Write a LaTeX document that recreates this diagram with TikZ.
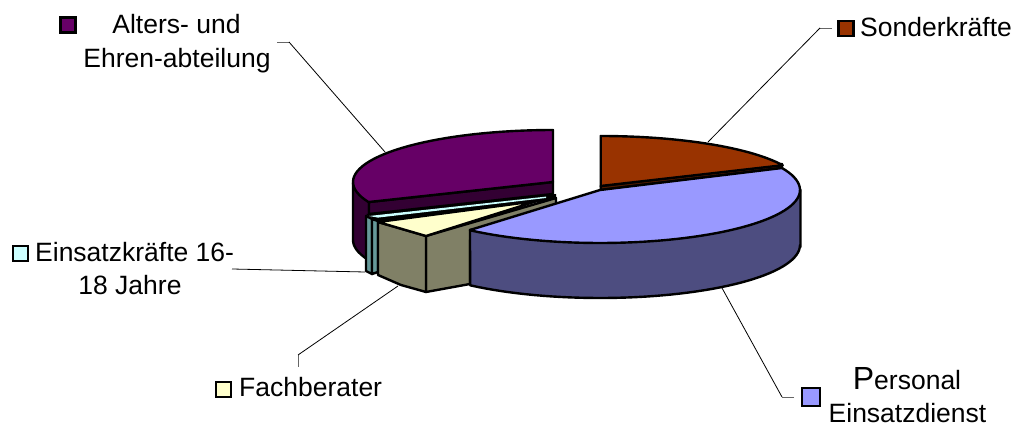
\documentclass[tikz,border=0pt]{standalone}
\usepackage{fontspec}
\setmainfont{Liberation Sans}
\definecolor{purpT}{HTML}{660066}
\definecolor{purpS}{HTML}{330033}
\definecolor{brownT}{HTML}{993300}
\definecolor{brownS}{HTML}{4D1A00}
\definecolor{blueT}{HTML}{9999FF}
\definecolor{blueS}{HTML}{4D4D80}
\definecolor{yelT}{HTML}{FFFFCC}
\definecolor{yelS}{HTML}{808066}
\definecolor{cyanT}{HTML}{CCFFFF}
\definecolor{cyanS}{HTML}{669999}
\tikzset{
  slice/.style={draw=black,line width=2.4pt,line join=round},
  leader/.style={draw=black,line width=0.8pt},
  stub/.style={draw=black!60,line width=0.9pt},
  swatch/.style={draw=black,line width=2.4pt,minimum size=15pt,inner sep=0pt,outer sep=0pt},
  lab/.style={anchor=base,inner sep=0pt,font=\fontsize{26.5}{30}\selectfont,text=black}
}
\begin{document}
\begin{tikzpicture}[x=1pt,y=-1pt]
\useasboundingbox[fill=white] (0,0) rectangle (1015,427);
% Alters- und Ehrenabteilung
\path[slice,fill=purpS] (353,183) -- (353,240) -- plot[domain=180:157,samples=8] ({553+200*cos(\x)},{240+52*sin(\x)}) -- (369,202) -- cycle;
\path[slice,fill=purpS] (369,202) -- (553,182) -- (553,194) -- (369,214) -- cycle;
\fill[black] (366,214) -- (556,194) -- (556,200) -- (378,222) -- cycle;
\path[slice,fill=purpT] (553,131) -- (553,182) -- (369,202) -- plot[domain=157.4:270,samples=40] ({553+200*cos(\x)},{182+52*sin(\x)}) -- cycle;
% Einsatzkraefte 16-18 Jahre
\path[slice,fill=cyanS] (366,216) -- (372,219) -- (372,274) -- (366,271) -- cycle;
\path[slice,fill=cyanS] (372,219) -- (378,221) -- (378,272) -- (372,274) -- cycle;
\fill[cyanT] (369,216) -- (546,196.6) -- (546,198) -- (378,217.6) -- cycle;
% Fachberater
\path[slice,fill=yelS] (426,236) -- (556,198) -- (556,206) -- (470,240) -- (470,284) -- (426,292) -- cycle;
\path[slice,fill=yelS] (378,222) -- (426,236) -- (426,292) -- (401,285) -- (378,275) -- cycle;
\path[slice,fill=yelT] (378,222) -- (537,201) -- (426,236) -- cycle;
% Sonderkraefte
\path[slice,fill=brownS] (600.7,186) -- (782,164) -- (782,168) -- (600.7,190) -- cycle;
\path[slice,fill=brownT] (600.7,186) -- plot[domain=-90:-24.5,samples=30] ({600.7+200*cos(\x)},{186+50*sin(\x)}) -- cycle;
% Personal Einsatzdienst
\path[slice,fill=blueS] (800.5,190) -- (800.5,247) -- plot[domain=0:130.5,samples=50] ({600+200*cos(\x)},{245+53*sin(\x)}) -- (470,230) -- cycle;
\path[slice,fill=blueT] (470,230) -- (600,190) -- (782,168) -- plot[domain=-24.5:130.5,samples=60] ({600+200*cos(\x)},{190+53*sin(\x)}) -- cycle;
% leader anchors
\coordinate (a0) at (277,42); \coordinate (a1) at (289,42); \coordinate (a2) at (385,152);
\coordinate (s0) at (832,28); \coordinate (s1) at (820,28); \coordinate (s2) at (708,142);
\coordinate (e0) at (232,269); \coordinate (e1) at (365,272);
\coordinate (f0) at (298,367); \coordinate (f1) at (298,355); \coordinate (f2) at (398,286);
\coordinate (p0) at (794,397); \coordinate (p1) at (782,397); \coordinate (p2) at (722,288);
\draw[stub] (a0) -- (a1); \draw[leader] (a1) -- (a2);
\draw[stub] (s0) -- (s1); \draw[leader] (s1) -- (s2);
\draw[leader] (e0) -- (e1);
\draw[stub] (f0) -- (f1); \draw[leader] (f1) -- (f2);
\draw[stub] (p0) -- (p1); \draw[leader] (p1) -- (p2);
% legend
\node[swatch,fill=purpT] (k1) at (68,25) {};
\node[swatch,fill=brownT] (k2) at (846,28.5) {};
\node[swatch,fill=cyanT] (k3) at (20.5,253.5) {};
\node[swatch,fill=yelT] (k4) at (223.5,389.5) {};
\node[swatch,fill=blueT,minimum size=18pt] (k5) at (811,397) {};
\node[lab] (t1) at (176.5,34) {Alters- und};
\node[lab] (t1b) at (177,68) {Ehren-abteilung};
\node[lab,anchor=base west] (t2) at (860,37) {Sonderkräfte};
\node[lab,anchor=base west] (t3) at (35,262) {Einsatzkräfte 16-};
\node[lab] (t3b) at (130,295) {18 Jahre};
\node[lab,anchor=base west] (t4) at (239,397) {Fachberater};
\node[lab] (t5) at (907,390) {{\fontsize{32}{34}\selectfont P}ersonal};
\node[lab] (t5b) at (907.5,423) {Einsatzdienst};
\end{tikzpicture}
\end{document}
